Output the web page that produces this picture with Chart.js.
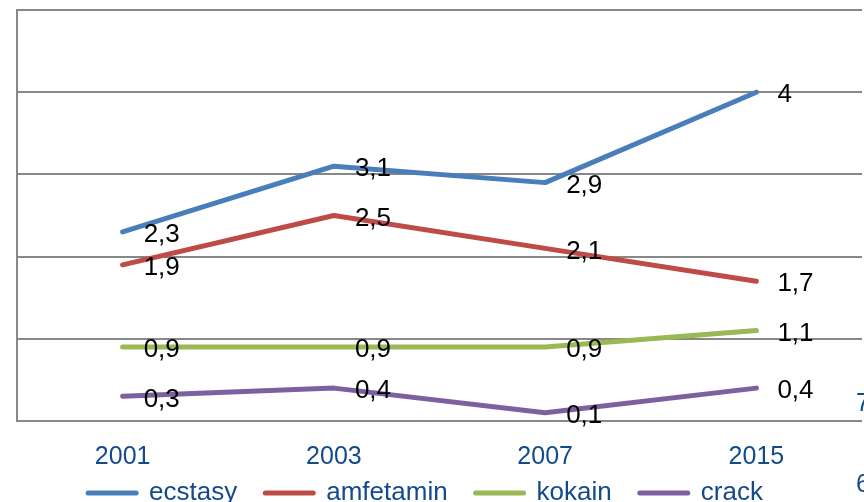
<!DOCTYPE html>
<html>
<head>
    <meta charset="UTF-8">
    <title>ecstasy, amfetamin, kokain, crack</title>
    <style>
        body {
            margin: 0;
            overflow: hidden;
            background: #fff;
            font-family: "Liberation Sans", Arial, sans-serif;
        }
        #wrap {
            position: relative;
            width: 864px;
            height: 557px;
        }
        .cut {
            position: absolute;
            left: 856px;
            font-size: 25px;
            color: #124a8c;
            line-height: 25px;
        }
    </style>
    <script src="https://cdn.jsdelivr.net/npm/chart.js"></script>
</head>
<body>
    <div id="wrap">
        <canvas id="drugChart"></canvas>
        <span class="cut" style="top:390px">7</span>
        <span class="cut" style="top:471px">6</span>
    </div>

    <script>
        const years = ['2001', '2003', '2007', '2015'];
        const ecstasy = [2.3, 3.1, 2.9, 4];
        const amfetamin = [1.9, 2.5, 2.1, 1.7];
        const kokain = [0.9, 0.9, 0.9, 1.1];
        const crack = [0.3, 0.4, 0.1, 0.4];
        const yTicks = [0, 1, 2, 3, 4, 5];

        const blue = '#124a8c';
        const gridGray = '#888888';

        Chart.defaults.font.family = '"Liberation Sans", Arial, sans-serif';

        function line(label, data, color) {
            return {
                label: label,
                data: data,
                borderColor: color,
                backgroundColor: color,
                borderWidth: 5,
                borderCapStyle: 'round',
                borderJoinStyle: 'round',
                pointRadius: 0,
                pointHoverRadius: 0,
                tension: 0,
                fill: false,
            };
        }

        // numbers next to each point, Excel style (comma decimals)
        const valueLabels = {
            id: 'valueLabels',
            afterDatasetsDraw(chart) {
                const ctx = chart.ctx;
                ctx.save();
                ctx.font = '26px "Liberation Sans", Arial, sans-serif';
                ctx.fillStyle = '#000';
                ctx.textAlign = 'left';
                ctx.textBaseline = 'middle';
                chart.data.datasets.forEach((ds, i) => {
                    chart.getDatasetMeta(i).data.forEach((pt, j) => {
                        const txt = String(ds.data[j]).replace('.', ',');
                        ctx.fillText(txt, pt.x + 21, pt.y + 3);
                    });
                });
                ctx.restore();
            }
        };

        // the legend sits tighter under the years than chart.js would put it
        const legendNudge = {
            id: 'legendNudge',
            afterLayout(chart) {
                const lg = chart.legend;
                lg.top -= 41;
                lg.bottom -= 41;
                lg.left -= 14;
                lg.right -= 14;
            }
        };

        const ctx = document.getElementById('drugChart').getContext('2d');
        const chart = new Chart(ctx, {
            type: 'line',
            data: {
                labels: years,
                datasets: [
                    line('ecstasy', ecstasy, '#4a7ebb'),
                    line('amfetamin', amfetamin, '#be4b48'),
                    line('kokain', kokain, '#98b954'),
                    line('crack', crack, '#7d60a0'),
                ],
            },
            options: {
                responsive: true,
                maintainAspectRatio: false,
                animation: false,
                layout: {
                    padding: { left: 17, right: 2, top: 10, bottom: 0 },
                },
                plugins: {
                    tooltip: { enabled: false },
                    legend: {
                        position: 'bottom',
                        labels: {
                            usePointStyle: true,
                            pointStyle: 'line',
                            pointStyleWidth: 48,
                            boxWidth: 48,
                            padding: 28,
                            color: blue,
                            font: { size: 26 },
                            generateLabels(chart) {
                                const items = Chart.defaults.plugins.legend.labels.generateLabels(chart);
                                items.forEach(it => {
                                    it.lineWidth = 5;
                                    it.lineCap = 'round';
                                    it.strokeStyle = chart.data.datasets[it.datasetIndex].borderColor;
                                });
                                return items;
                            },
                        },
                    },
                },
                scales: {
                    x: {
                        offset: true,
                        grid: { display: false, drawTicks: false },
                        border: { display: false },
                        ticks: {
                            color: blue,
                            font: { size: 25 },
                            padding: 21,
                            maxRotation: 0,
                        },
                    },
                    y: {
                        min: yTicks[0],
                        max: yTicks[yTicks.length - 1],
                        afterBuildTicks(scale) {
                            scale.ticks = yTicks.map(v => ({ value: v }));
                        },
                        grid: { color: gridGray, lineWidth: 2, drawTicks: false },
                        border: { display: true, color: gridGray, width: 2 },
                        ticks: { display: false },
                    },
                },
            },
            plugins: [valueLabels, legendNudge],
        });
    </script>
</body>
</html>
